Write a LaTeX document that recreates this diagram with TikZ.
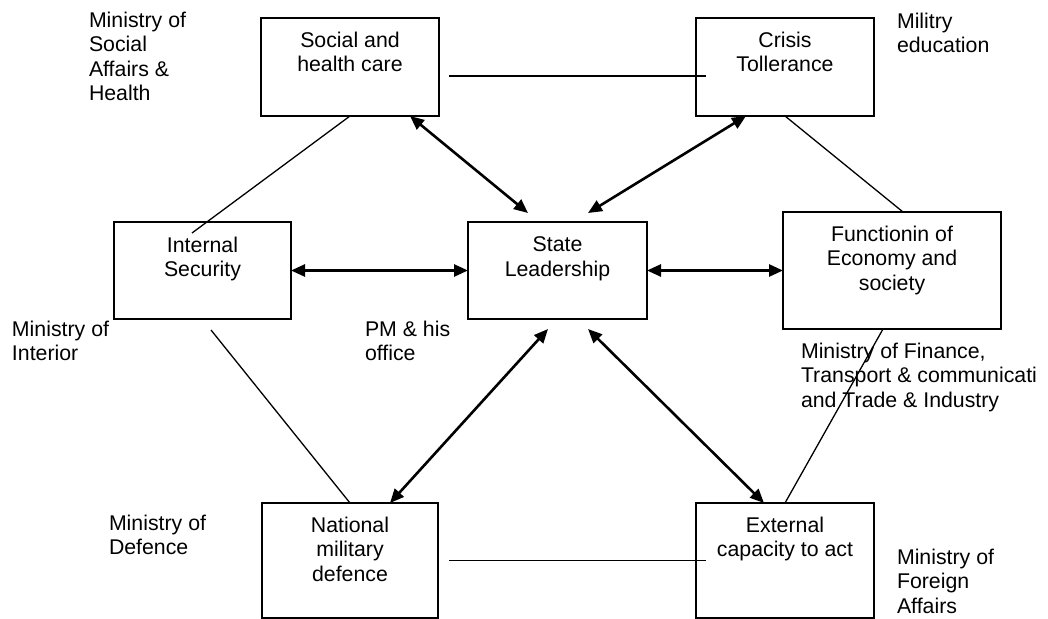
\documentclass[tikz,border=0pt]{standalone}
\usepackage{fontspec}
\setmainfont{Liberation Sans}
\usetikzlibrary{arrows.meta,calc}
\begin{document}
\begin{tikzpicture}[x=1pt,y=-1pt,
  txt/.style={font=\fontsize{21.3}{24.3}\selectfont, inner sep=0pt, outer sep=0pt},
  box/.style={draw, line width=1.6pt, minimum width=178pt, inner sep=0pt, outer sep=0pt},
  boxtext/.style={txt, align=center, anchor=north},
  note/.style={txt, align=left, anchor=north west},
  link/.style={line width=1.3pt},
  twoway/.style={line width=2.6pt, {Triangle[length=14pt,width=12pt]}-{Triangle[length=14pt,width=12pt]}},
]
\useasboundingbox (0,0) rectangle (1048,618);

% sector boxes
\node[box, minimum height=98pt] (soc) at (350,67) {};
\node[box, minimum height=98pt] (cri) at (785,67) {};
\node[box, minimum width=177pt, minimum height=97pt] (ins) at (202.5,270.5) {};
\node[box, minimum width=179pt, minimum height=97pt] (sta) at (557.5,270.5) {};
\node[box, minimum width=218pt, minimum height=117pt] (fun) at (892,270.5) {};
\node[box, minimum width=176pt, minimum height=115pt] (nat) at (350,560.5) {};
\node[box, minimum height=115pt] (ext) at (785,560.5) {};

% box captions
\node[boxtext] (socT) at ($(soc.north)+(0,14)$) {Social and\\health care};
\node[boxtext] (criT) at ($(cri.north)+(0,14)$) {Crisis\\Tollerance};
\node[boxtext] (insT) at ($(ins.north)+(0,15)$) {Internal\\Security};
\node[boxtext] (staT) at ($(sta.north)+(0,15)$) {State\\Leadership};
\node[boxtext] (funT) at ($(fun.north)+(0,14)$) {Functionin of\\Economy and\\society};
\node[boxtext] (natT) at ($(nat.north)+(0,14)$) {National\\military\\defence};
\node[boxtext] (extT) at ($(ext.north)+(0,14)$) {External\\capacity to act};

% responsible ministries
\node[note] (minSoc) at (89,12) {Ministry of\\Social\\Affairs \&\\Health};
\node[note] (minMil) at (897,13) {Militry\\education};
\node[note] (minInt) at (12,321) {Ministry of\\Interior};
\node[note] (pm) at (365,321) {PM \& his\\office};
\node[note] (minDef) at (109,515) {Ministry of\\Defence};
\node[note] (minFin) at (801,343) {Ministry of Finance,\\Transport \& communicati\\and Trade \& Industry};
\node[note] (minFor) at (897,549) {Ministry of\\Foreign\\Affairs};

% outer ring of thin links
\draw[link] ($(soc.east)+(10,9)$) -- ($(cri.west)+(10,9)$);
\draw[link] (soc.south) -- ($(ins.north)+(-10.5,11)$);
\draw[link] ($(ins.south)+(8.5,11)$) -- (nat.north);
\draw[link] ($(nat.east)+(11,0)$) -- ($(ext.west)+(10,0)$);
\draw[link] (ext.north) -- ($(fun.south)+(-9,0)$);
\draw[link] ($(fun.north)+(11,0)$) -- (cri.south);

% two-way links with the state leadership
\draw[twoway] ($(soc.south)+(60,0)$) -- ($(sta.north)+(-29.5,-9)$);
\draw[twoway] ($(cri.south)+(-39,0)$) -- ($(sta.north)+(30.5,-9)$);
\draw[twoway] (ins.east) -- (sta.west);
\draw[twoway] (sta.east) -- (fun.west);
\draw[twoway] ($(sta.south)+(-9.5,10)$) -- ($(nat.north)+(40,0)$);
\draw[twoway] ($(sta.south)+(30.5,10)$) -- ($(ext.north)+(-21,0)$);
\end{tikzpicture}
\end{document}
